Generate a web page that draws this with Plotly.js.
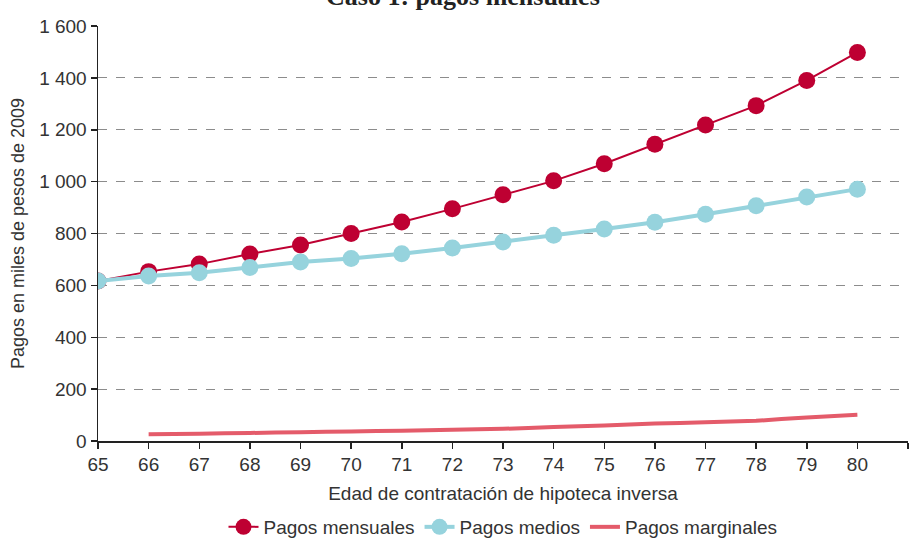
<!DOCTYPE html>
<html>
<head>
<meta charset="utf-8">
<script src="https://cdn.plot.ly/plotly-3.0.1.min.js"></script>
<style>html,body{margin:0;padding:0;background:#fff;overflow:hidden;}#chart{width:916px;height:546px;}</style>
</head>
<body>
<div id="chart"></div>
<script>
const edades = [65, 66, 67, 68, 69, 70, 71, 72, 73, 74, 75, 76, 77, 78, 79, 80];
const pagosMensuales = [617, 653, 682, 721, 756, 800, 844, 895, 949, 1003, 1069, 1144, 1218, 1293, 1390, 1498];
const pagosMedios = [617, 636, 649, 669, 690, 704, 722, 744, 767, 793, 817, 843, 874, 907, 941, 971];
const edadesMarginales = [66, 67, 68, 69, 70, 71, 72, 73, 74, 75, 76, 77, 78, 79, 80];
const pagosMarginales = [26, 28, 31, 34, 37, 40, 43, 47, 54, 60, 67, 72, 78, 91, 101];
const xTicks = [65, 66, 67, 68, 69, 70, 71, 72, 73, 74, 75, 76, 77, 78, 79, 80, 81];
const yTicks = [0, 200, 400, 600, 800, 1000, 1200, 1400, 1600];
const yTickLabels = ["0", "200", "400", "600", "800", "1 000", "1 200", "1 400", "1 600"];

const font = "'Liberation Sans', Arial, sans-serif";
const txt = '#333';

const traces = [
  {x: edades, y: pagosMensuales, name: 'Pagos mensuales', type: 'scatter', mode: 'lines+markers',
   line: {color: '#BE0032', width: 2}, marker: {color: '#BE0032', size: 17}},
  {x: edades, y: pagosMedios, name: 'Pagos medios', type: 'scatter', mode: 'lines+markers',
   line: {color: '#96D3DD', width: 4}, marker: {color: '#96D3DD', size: 17}},
  {x: edadesMarginales, y: pagosMarginales, name: 'Pagos marginales', type: 'scatter', mode: 'lines',
   line: {color: '#E45B6A', width: 4, shape: 'spline', smoothing: 0.3}}
];

const layout = {
  width: 916, height: 546,
  margin: {l: 98, r: 8, t: 26, b: 105},
  paper_bgcolor: '#fff', plot_bgcolor: '#fff',
  font: {family: font, size: 19, color: txt},
  showlegend: true,
  legend: {orientation: 'h', x: 0.5, xanchor: 'center', xref: 'paper', y: 0, yanchor: 'bottom', yref: 'container',
           font: {family: font, size: 19, color: txt}, tracegroupgap: 0},
  xaxis: {range: [65, 81], tickvals: xTicks, ticktext: xTicks.map(String), showgrid: false, zeroline: false, automargin: false,
          showline: true, linecolor: '#222', linewidth: 1.5, ticks: 'outside', ticklen: 6, tickwidth: 1.5, tickcolor: '#222',
          tickfont: {family: font, size: 19, color: txt},
          title: {text: 'Edad de contratación de hipoteca inversa', font: {family: font, size: 19, color: txt}, standoff: 12}},
  yaxis: {range: [0, 1600], tickvals: yTicks, ticktext: yTickLabels, showgrid: true, gridcolor: '#8c8c8c', griddash: 'dash', gridwidth: 1,
          zeroline: false, showline: true, automargin: false, linecolor: '#222', linewidth: 1.5, ticks: 'outside', ticklen: 6, tickwidth: 1.5, tickcolor: '#222',
          tickfont: {family: font, size: 19, color: txt},
          title: {text: 'Pagos en miles de pesos de 2009', font: {family: font, size: 18, color: txt}, standoff: 10}},
  annotations: [{text: '<b>Caso 1: pagos mensuales</b>', xref: 'paper', x: 0.45, xanchor: 'center',
                 yref: 'paper', y: 1, yanchor: 'bottom', yshift: 13, showarrow: false,
                 font: {family: "'Liberation Serif', 'DejaVu Serif', serif", size: 26, color: '#222'}}]
};

Plotly.newPlot('chart', traces, layout, {displayModeBar: false, staticPlot: true});
</script>
</body>
</html>
